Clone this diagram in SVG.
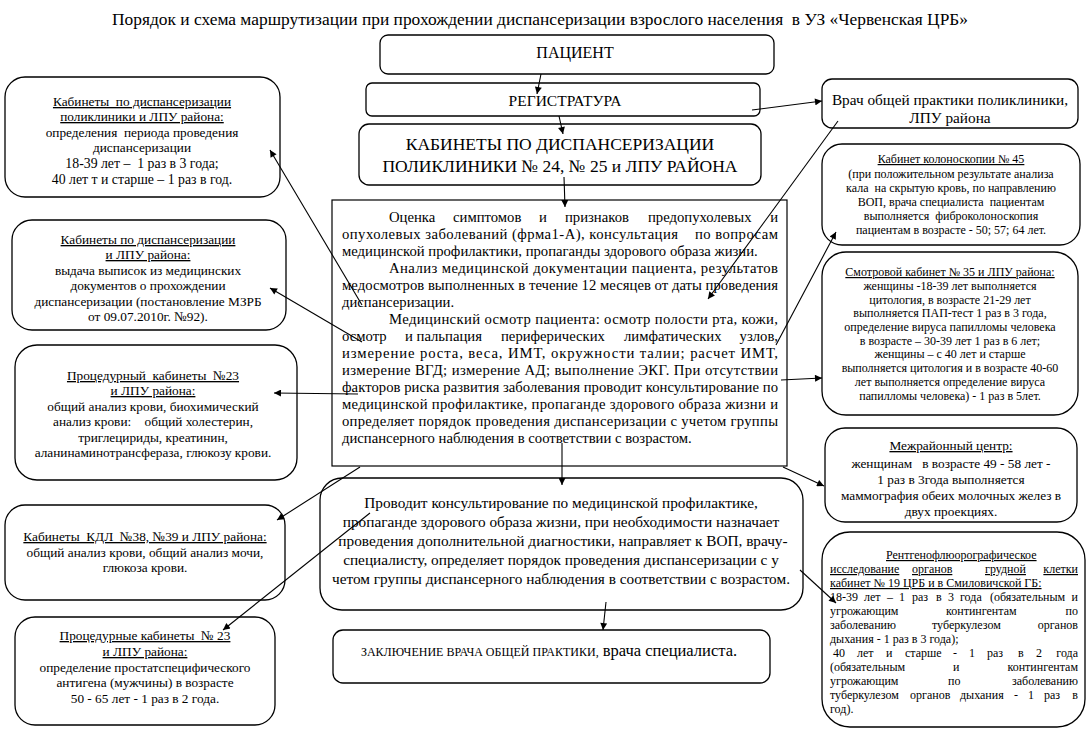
<svg xmlns="http://www.w3.org/2000/svg" width="1089" height="739" viewBox="0 0 1089 739">
<defs>
<style>
.box{fill:#fff;stroke:#000;stroke-width:1.3}
text{font-family:"Liberation Serif","Times New Roman",serif;fill:#000}
.c{text-anchor:middle}
.e{text-anchor:end}
.u{text-decoration:underline}
.s12{font-size:12px}
.s13{font-size:13.3px}
.s14{font-size:14.7px}
#connectors line{stroke:#000;stroke-width:1.1;marker-end:url(#ah)}
</style>
<marker id="ah" viewBox="0 0 10 10" refX="10" refY="5" markerWidth="10" markerHeight="7" orient="auto" markerUnits="userSpaceOnUse"><path d="M0,0 L10,5 L0,10 z" fill="#000"/></marker>
</defs>
<rect width="1089" height="739" fill="#fff"/>
<text x="540" y="25" class="c" font-size="17.4" xml:space="preserve">Порядок и схема маршрутизации при прохождении диспансеризации взрослого населения  в УЗ «Червенская ЦРБ»</text>

<g id="patient"><rect class="box" x="380" y="35" width="394" height="39" rx="8"/><text x="575" y="58" class="c" font-size="16">ПАЦИЕНТ</text></g>
<g id="registry"><rect class="box" x="366" y="83" width="394" height="33" rx="6"/><text x="565" y="106" class="c" font-size="15.5">РЕГИСТРАТУРА</text></g>
<g id="cabinets"><rect class="box" x="359" y="124" width="402" height="61" rx="10"/>
<text x="560" y="150" class="c" font-size="17.5">КАБИНЕТЫ ПО ДИСПАНСЕРИЗАЦИИ</text>
<text x="560" y="172" class="c" font-size="17.5">ПОЛИКЛИНИКИ № 24, № 25 и ЛПУ РАЙОНА</text></g>

<g id="assessment"><rect class="box" x="332" y="200" width="455" height="266" rx="0" style="stroke-width:1.2"/>
<g class="s14">
<text y="222"><tspan x="389">Оценка</tspan><tspan x="453">симптомов</tspan><tspan x="539">и</tspan><tspan x="565">признаков</tspan><tspan x="648">предопухолевых</tspan><tspan x="778" class="e">и</tspan></text>
<text x="342" y="239" textLength="436" lengthAdjust="spacing" xml:space="preserve">опухолевых заболеваний (фрма1-А), консультация    по вопросам</text>
<text x="342" y="256">медицинской профилактики, пропаганды здорового образа жизни.</text>
<text x="389" y="273" textLength="389" lengthAdjust="spacing">Анализ медицинской документации пациента, результатов</text>
<text x="342" y="290" textLength="436" lengthAdjust="spacing">медосмотров выполненных в течение 12 месяцев от даты проведения</text>
<text x="342" y="307">диспансеризации.</text>
<text x="389" y="323.5" textLength="389" lengthAdjust="spacing">Медицинский осмотр пациента: осмотр полости рта, кожи,</text>
<text y="340.5"><tspan x="342">осмотр</tspan><tspan x="405">и пальпация</tspan><tspan x="501">периферических</tspan><tspan x="624">лимфатических</tspan><tspan x="778" class="e">узлов,</tspan></text>
<text x="342" y="357.5" textLength="436" lengthAdjust="spacing">измерение роста, веса, ИМТ, окружности талии; расчет ИМТ,</text>
<text x="342" y="374.5" textLength="436" lengthAdjust="spacing">измерение ВГД; измерение АД; выполнение ЭКГ. При отсутствии</text>
<text x="342" y="391.5" textLength="436" lengthAdjust="spacing">факторов риска развития заболевания проводит консультирование по</text>
<text x="342" y="408.5" textLength="436" lengthAdjust="spacing">медицинской профилактике, пропаганде здорового образа жизни и</text>
<text x="342" y="425.5" textLength="436" lengthAdjust="spacing">определяет порядок проведения диспансеризации с учетом группы</text>
<text x="342" y="442.5">диспансерного наблюдения в соответствии с возрастом.</text>
</g></g>

<g id="consulting"><rect class="box" x="320" y="478" width="483" height="132" rx="22"/>
<g font-size="15.3">
<text x="561" y="508" class="c">Проводит консультирование по медицинской профилактике,</text>
<text x="561" y="527" class="c">пропаганде здорового образа жизни, при необходимости назначает</text>
<text x="563" y="546" class="c">проведения дополнительной диагностики, направляет к ВОП, врачу-</text>
<text x="561" y="565" class="c">специалисту, определяет порядок проведения диспансеризации с у</text>
<text x="561" y="584" class="c">четом группы диспансерного наблюдения в соответствии с возрастом.</text>
</g></g>

<g id="conclusion"><rect class="box" x="333" y="630" width="437" height="53" rx="10"/>
<text x="549" y="656" class="c"><tspan font-size="12">ЗАКЛЮЧЕНИЕ ВРАЧА ОБЩЕЙ ПРАКТИКИ,</tspan><tspan font-size="16.5"> врача специалиста.</tspan></text></g>

<g id="gp"><rect class="box" x="822" y="79" width="256" height="49" rx="10"/>
<text x="950" y="105" class="c" font-size="15.3">Врач общей практики поликлиники,</text>
<text x="950" y="123" class="c" font-size="15.3">ЛПУ района</text></g>

<g id="colonoscopy"><rect class="box" x="822" y="144" width="258" height="101" rx="20"/>
<g class="s12">
<text x="951" y="163" class="c u">Кабинет колоноскопии № 45</text>
<text x="951" y="178" class="c">(при положительном результате анализа</text>
<text x="951" y="192" class="c" xml:space="preserve">кала  на скрытую кровь, по направлению</text>
<text x="951" y="206" class="c" xml:space="preserve">ВОП, врача специалиста  пациентам</text>
<text x="951" y="220" class="c" xml:space="preserve">выполняется  фиброколоноскопия</text>
<text x="951" y="234" class="c">пациентам в возрасте - 50; 57; 64 лет.</text>
</g></g>

<g id="exam-room"><rect class="box" x="822" y="252" width="256" height="163" rx="24"/>
<g class="s12">
<text x="950" y="276" class="c u">Смотровой кабинет № 35 и ЛПУ района:</text>
<text x="950" y="290" class="c">женщины -18-39 лет выполняется</text>
<text x="950" y="303.5" class="c">цитология, в возрасте 21-29 лет</text>
<text x="950" y="317" class="c">выполняется ПАП-тест 1 раз в 3 года,</text>
<text x="950" y="331" class="c">определение вируса папилломы человека</text>
<text x="950" y="344.5" class="c">в возрасте – 30-39 лет 1 раз в 6 лет;</text>
<text x="950" y="358" class="c">женщины – с 40 лет и старше</text>
<text x="950" y="372" class="c">выполняется цитология и в возрасте 40-60</text>
<text x="950" y="386" class="c">лет выполняется определение вируса</text>
<text x="950" y="400" class="c">папилломы человека) - 1 раз в 5лет.</text>
</g></g>

<g id="interdistrict"><rect class="box" x="825" y="428" width="252" height="94" rx="20"/>
<g class="s13">
<text x="951" y="450" class="c u">Межрайонный центр:</text>
<text x="951" y="468" class="c" xml:space="preserve">женщинам   в возрасте 49 - 58 лет -</text>
<text x="951" y="484" class="c">1 раз в 3года выполняется</text>
<text x="951" y="500" class="c">маммография обеих молочных желез в</text>
<text x="951" y="516" class="c">двух проекциях.</text>
</g></g>

<g id="xray"><rect class="box" x="822" y="532" width="263" height="195" rx="28"/>
<g class="s12">
<text x="886" y="559" class="u">Рентгенофлюорографическое</text>
<text y="573" class="u"><tspan x="830">исследование</tspan><tspan x="912">органов</tspan><tspan x="985">грудной</tspan><tspan x="1078" class="e">клетки</tspan></text>
<text x="830" y="587" class="u">кабинет № 19 ЦРБ и в Смиловичской ГБ:</text>
<text y="601"><tspan x="830">18-39</tspan><tspan x="864">лет</tspan><tspan x="887">–</tspan><tspan x="899">1</tspan><tspan x="912">раз</tspan><tspan x="936">в</tspan><tspan x="948">3</tspan><tspan x="960">года</tspan><tspan x="990">(обязательным</tspan><tspan x="1078" class="e">и</tspan></text>
<text y="615"><tspan x="830">угрожающим</tspan><tspan x="946">контингентам</tspan><tspan x="1078" class="e">по</tspan></text>
<text y="629"><tspan x="830">заболеванию</tspan><tspan x="932">туберкулезом</tspan><tspan x="1078" class="e">органов</tspan></text>
<text x="830" y="643">дыхания - 1 раз в 3 года);</text>
<text y="657"><tspan x="833">40</tspan><tspan x="857">лет</tspan><tspan x="886">и</tspan><tspan x="905">старше</tspan><tspan x="953">-</tspan><tspan x="969">1</tspan><tspan x="987">раз</tspan><tspan x="1018">в</tspan><tspan x="1036">2</tspan><tspan x="1078" class="e">года</tspan></text>
<text y="671"><tspan x="830">(обязательным</tspan><tspan x="953">и</tspan><tspan x="1078" class="e">контингентам</tspan></text>
<text y="685"><tspan x="830">угрожающим</tspan><tspan x="948">по</tspan><tspan x="1078" class="e">заболеванию</tspan></text>
<text y="699"><tspan x="830">туберкулезом</tspan><tspan x="910">органов</tspan><tspan x="960">дыхания</tspan><tspan x="1014">-</tspan><tspan x="1028">1</tspan><tspan x="1044">раз</tspan><tspan x="1078" class="e">в</tspan></text>
<text x="830" y="713">год).</text>
</g></g>

<g id="left1"><rect class="box" x="5" y="77" width="275" height="120" rx="20"/>
<text x="142" y="106" class="c s13 u" xml:space="preserve">Кабинеты  по диспансеризации</text>
<text x="142" y="121" class="c s13 u">поликлиники и ЛПУ района:</text>
<text x="142" y="137" class="c s13" xml:space="preserve">определения  периода проведения</text>
<text x="142" y="152" class="c s13">диспансеризации</text>
<text x="142" y="168" class="c" font-size="13.8" xml:space="preserve">18-39 лет –  1 раз в 3 года;</text>
<text x="142" y="184" class="c" font-size="13.8">40 лет т и старше – 1 раз в год.</text></g>

<g id="left2"><rect class="box" x="12" y="220" width="274" height="110" rx="20"/>
<g class="s13">
<text x="148" y="244" class="c u">Кабинеты по диспансеризации</text>
<text x="148" y="259" class="c u">и ЛПУ района:</text>
<text x="148" y="275" class="c">выдача выписок из медицинских</text>
<text x="148" y="290" class="c">документов о прохождении</text>
<text x="148" y="306" class="c">диспансеризации (постановление МЗРБ</text>
<text x="148" y="321" class="c">от 09.07.2010г. №92).</text>
</g></g>

<g id="left3"><rect class="box" x="15" y="345" width="282" height="135" rx="22"/>
<g class="s13">
<text x="153" y="380" class="c u" xml:space="preserve">Процедурный  кабинеты  №23</text>
<text x="153" y="395" class="c u">и ЛПУ района:</text>
<text x="153" y="411" class="c">общий анализ крови, биохимический</text>
<text x="153" y="426" class="c" xml:space="preserve">анализ крови:    общий холестерин,</text>
<text x="153" y="442" class="c">триглецириды, креатинин,</text>
<text x="153" y="457" class="c">аланинаминотрансфераза, глюкозу крови.</text>
</g></g>

<g id="left4"><rect class="box" x="5" y="505" width="280" height="95" rx="20"/>
<g class="s13">
<text x="145" y="541" class="c u" xml:space="preserve">Кабинеты  КДЛ  №38, №39 и ЛПУ района:</text>
<text x="145" y="557" class="c">общий анализ крови, общий анализ мочи,</text>
<text x="145" y="572" class="c">глюкоза крови.</text>
</g></g>

<g id="left5"><rect class="box" x="15" y="617" width="260" height="108" rx="20"/>
<g class="s13">
<text x="145" y="640" class="c u" xml:space="preserve">Процедурные кабинеты  № 23</text>
<text x="145" y="656" class="c u">и ЛПУ района:</text>
<text x="145" y="672" class="c">определение простатспецифического</text>
<text x="145" y="687" class="c">антигена (мужчины) в возрасте</text>
<text x="145" y="703" class="c">50 - 65 лет - 1 раз в 2 года.</text>
</g></g>

<g id="connectors">
<line x1="541" y1="74" x2="537" y2="94"/>
<line x1="559" y1="116" x2="563" y2="134"/>
<line x1="564" y1="177" x2="565" y2="207"/>
<line x1="752" y1="110" x2="822" y2="101"/>
<line x1="838" y1="121" x2="708" y2="299"/>
<line x1="776" y1="345" x2="836" y2="232"/>
<line x1="781" y1="380" x2="822" y2="378"/>
<line x1="783" y1="467" x2="824" y2="486"/>
<line x1="800" y1="570" x2="836" y2="603"/>
<line x1="362" y1="305" x2="270" y2="150"/>
<line x1="362" y1="342" x2="270" y2="288"/>
<line x1="358" y1="394" x2="274" y2="393"/>
<line x1="360" y1="467" x2="277" y2="520"/>
<line x1="370" y1="513" x2="223" y2="630"/>
<line x1="562" y1="443" x2="562" y2="485"/>
<line x1="606" y1="602" x2="603" y2="630"/>
</g>
</svg>
